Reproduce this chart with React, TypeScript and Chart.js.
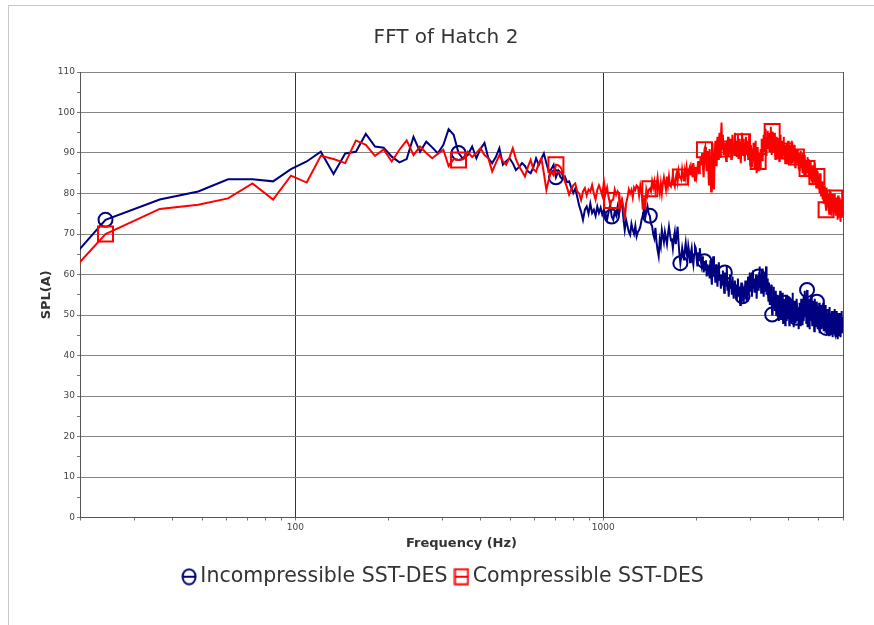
import React, { useEffect, useRef } from 'react';
import { Chart, registerables } from 'chart.js';

Chart.register(...registerables);

// FFT bin spacing (Hz); bin k sits at DF * (k + 1)
const DF = 12.1;

const seriesNames = ['Incompressible SST-DES', 'Compressible SST-DES'];

const incompressible = [
  47.5, 73.5, 78.5, 80.5, 83.5, 83.5, 83.0, 86.0, 87.9, 90.3,
  84.8, 89.9, 90.3, 94.7, 91.6, 91.3, 89.1, 87.7, 88.5, 94.0,
  90.3, 92.8, 91.4, 89.9, 92.0, 95.9, 94.5, 90.0, 88.5, 89.5,
  91.6, 88.7, 91.0, 92.5, 88.7, 87.5, 89.0, 91.2, 87.1, 88.0,
  88.7, 87.5, 85.8, 86.5, 87.5, 86.8, 85.5, 85.0, 86.5, 88.7,
  87.0, 88.5, 89.9, 87.5, 85.4, 86.0, 87.1, 84.0, 85.5, 84.0,
  83.5, 84.2, 82.8, 83.0, 81.5, 80.1, 81.2, 79.2, 77.0, 75.5,
  73.5, 76.0, 76.8, 75.0, 77.5, 75.2, 76.0, 74.5, 76.8, 75.2,
  76.5, 74.8,
  76.0, 75.0, 73.5, 75.5, 77.2, 74.3, 73.5, 75.5, 74.5, 76.8,
  75.0, 77.0, 78.0, 74.0, 71.0, 73.5, 72.0, 70.5, 69.8, 72.5,
  71.0, 70.0, 72.0, 69.4, 70.5, 71.0, 71.8, 73.5, 74.5, 76.0,
  74.0, 75.5, 76.8, 75.0, 74.5, 72.5, 72.0, 70.0, 69.0, 71.5,
  68.0, 66.0, 64.5, 68.5, 67.0, 71.0, 69.5, 68.0, 70.5, 69.0,
  67.5, 70.0, 71.8, 70.0, 68.5, 68.6, 66.5, 69.0, 70.5, 67.5,
  69.5, 71.8, 68.0, 65.0, 62.8, 64.5, 66.5, 65.0, 63.5, 66.0,
  67.8, 65.5, 64.0, 67.0, 65.5, 63.0, 65.3, 66.5, 64.0, 62.5,
  65.0, 67.0, 66.5, 64.0, 62.0, 65.5, 63.5, 66.5, 64.0, 62.5,
  64.5, 62.0, 60.5, 63.3, 61.2, 63.5, 59.5, 62.5, 60.0, 62.0,
  59.0, 63.5, 60.0, 57.5, 62.0, 64.5, 59.5, 61.0, 58.0, 62.5,
  60.3, 57.0, 61.5, 63.0, 58.5, 60.0, 56.5, 59.5, 57.5, 61.0,
  58.5, 55.5, 60.5, 57.0, 59.0, 62.0, 56.0, 58.5, 54.5, 57.5,
  60.0, 56.5, 58.0, 55.0, 59.5, 57.0, 54.0, 56.5, 58.5, 55.4,
  57.5, 53.5, 56.0, 59.0, 54.5, 57.0, 55.0, 52.5, 56.5, 58.0,
  54.0, 54.6, 57.0, 53.0, 56.0, 55.4, 58.5, 54.0, 56.5, 53.5,
  57.0, 59.5, 55.0, 58.0, 60.5, 56.0, 59.5, 57.5, 54.5, 58.5,
  61.0, 56.5, 58.0, 55.5, 59.0, 57.0, 60.0, 54.0, 57.5, 59.5,
  59.5, 56.0, 60.3, 62.0, 57.0, 59.5, 55.5, 58.0, 61.5, 56.5,
  59.0, 54.5, 57.5, 60.0, 56.0, 58.7, 62.0, 55.0, 57.5, 59.0,
  56.0, 53.5, 58.0, 55.0, 52.5, 56.5, 54.0, 57.5, 52.9, 50.1,
  50.5, 54.5, 57.0, 52.0, 55.5, 51.0, 53.5, 56.0, 50.0, 54.0,
  52.5, 49.5, 55.0, 53.0, 48.5, 54.6, 51.5, 56.0, 52.0, 49.0,
  53.5, 50.5, 55.5, 52.0, 48.0, 51.5, 54.0, 50.0, 53.0, 47.5,
  52.0, 55.0, 50.5, 48.5, 53.0, 51.0, 54.5, 49.0, 52.5, 47.5,
  51.5, 54.0, 50.0, 52.1, 48.5, 53.5, 50.5, 55.5, 49.5, 52.0,
  47.0, 51.0, 53.5, 49.5, 52.5, 48.0, 50.5, 49.3, 54.0, 51.5,
  48.5, 52.0, 50.0, 46.5, 49.6, 53.0, 51.0, 47.5, 52.5, 50.0,
  54.0, 49.0, 51.5, 47.5, 53.0, 50.0, 55.0, 48.5, 52.0, 49.5,
  56.0, 52.9, 50.0, 54.5, 48.0, 51.5, 56.2, 47.0, 50.5, 52.5,
  49.0, 54.0, 51.0, 46.5, 50.0, 53.0, 48.5, 52.0, 55.0, 49.5,
  51.3, 47.5, 53.5, 50.0, 48.0, 52.5, 49.0, 46.0, 51.0, 54.0,
  49.5, 52.0, 47.0, 50.5, 50.5, 53.3, 51.0, 46.5, 48.8, 52.0,
  50.0, 47.5, 53.0, 49.0, 45.5, 51.5, 48.0, 52.5, 50.0, 46.5,
  49.5, 52.5, 47.0, 50.5, 48.0, 53.0, 46.0, 49.0, 48.0, 51.5,
  47.5, 50.0, 52.5, 46.5, 46.8, 49.5, 51.5, 45.5, 48.5, 50.5,
  46.0, 49.5, 51.5, 47.0, 45.0, 49.0, 52.0, 47.5, 49.6, 46.5,
  50.5, 48.0, 45.0, 49.0, 51.0, 46.5, 48.5, 44.5, 50.0, 47.5,
  49.0, 46.0, 51.5, 47.5, 45.5, 50.0, 48.0, 44.5, 49.5, 47.0,
  48.0, 51.0, 46.0, 49.0, 44.0, 47.5, 50.5, 46.5, 48.5, 45.0,
  49.5, 47.0, 50.5, 45.5, 48.0, 44.5, 49.0, 47.5, 51.0, 46.0,
  48.5, 45.5, 49.5, 47.0,
];

const compressible = [
  44.9, 70.0, 76.2, 77.2, 78.8, 82.5, 78.5, 84.4, 82.7, 89.3,
  88.5, 87.5, 93.1, 92.0, 89.3, 90.9, 87.9, 90.8, 93.1, 89.5,
  91.6, 90.0, 88.7, 89.8, 90.8, 86.8, 88.5, 88.3, 88.5, 90.3,
  89.0, 90.0, 91.2, 89.5, 88.7, 85.4, 87.5, 89.5, 88.0, 87.1,
  89.0, 91.2, 88.5, 86.7, 85.5, 84.2, 86.5, 88.3, 86.0, 85.4,
  87.5, 88.7, 85.0, 80.9, 83.5, 85.4, 84.5, 87.1, 87.0, 86.5,
  85.4, 83.0, 81.5, 79.7, 81.0, 82.0, 82.5, 80.5, 80.0, 78.4,
  80.5, 81.3, 79.5, 81.0, 80.5, 82.1, 80.0, 78.5, 80.9, 82.0,
  80.9, 79.5,
  83.0, 80.0, 81.5, 79.0, 77.2, 78.3, 78.5, 81.0, 79.7, 80.5,
  79.7, 76.8, 78.5, 76.8, 73.5, 77.5, 79.0, 81.0, 80.0, 80.9,
  79.0, 81.5, 80.9, 82.0, 81.7, 79.5, 82.0, 80.5, 76.0, 79.0,
  76.0, 80.9, 79.5, 80.9, 81.2, 80.5, 83.0, 81.5, 83.0, 80.5,
  82.0, 84.0, 81.5, 80.0, 82.5, 80.0, 82.5, 84.0, 82.5, 81.0,
  84.2, 82.0, 84.2, 82.0, 81.7, 83.0, 84.5, 82.5, 81.7, 84.0,
  85.0, 83.0, 85.5, 84.0, 84.1, 83.5, 86.0, 84.5, 83.0, 85.5,
  84.0, 86.5, 85.0, 83.5, 86.0, 86.7, 84.5, 86.0, 84.0, 87.5,
  85.5, 83.0, 86.5, 84.5, 86.3, 88.0, 85.0, 86.3, 89.1, 87.0,
  90.0, 86.5, 84.0, 90.8, 91.5, 88.0, 85.5, 90.5, 87.0, 82.0,
  91.0, 86.5, 80.5, 88.0, 92.5, 84.0, 81.0, 89.5, 93.0, 87.0,
  90.5, 94.0, 88.5, 92.0, 95.0, 89.0, 93.5, 97.5, 91.0, 94.5,
  89.5, 92.5, 91.0, 90.0, 88.0, 93.0, 91.5, 94.0, 89.0, 92.0,
  90.5, 93.5, 88.5, 91.5, 94.5, 90.0, 92.5, 89.5, 95.0, 91.0,
  93.0, 89.0, 92.0, 94.5, 88.5, 91.5, 93.5, 90.0, 87.5, 92.5,
  95.0, 92.8, 89.5, 93.5, 90.5, 88.0, 92.0, 94.0, 89.5, 91.5,
  93.0, 88.5, 91.5, 94.5, 89.0, 87.0, 92.0, 90.5, 86.5, 91.0,
  88.0, 92.5, 89.5, 86.0, 90.0, 93.0, 87.5, 85.0, 89.0, 91.5,
  87.9, 85.5, 90.0, 88.5, 86.0, 91.0, 89.0, 93.5, 90.5, 88.0,
  92.0, 94.5, 90.5, 93.0, 96.0, 91.5, 89.5, 94.0, 92.5, 95.5,
  91.0, 93.5, 95.0, 90.5, 94.0, 92.0, 96.5, 91.5, 89.5, 95.3,
  92.0, 94.5, 90.0, 93.0, 95.0, 91.0, 88.5, 93.5, 91.5, 94.0,
  90.0, 92.5, 89.0, 93.5, 91.0, 88.0, 92.0, 94.5, 90.5, 89.0,
  92.5, 90.0, 93.0, 88.5, 91.5, 94.0, 89.5, 92.0, 90.5, 87.5,
  91.5, 88.0, 92.5, 90.0, 87.5, 91.0, 93.0, 89.0, 90.5, 88.5,
  92.0, 89.5, 87.0, 91.5, 90.0, 93.0, 88.5, 90.5, 87.5, 91.5,
  89.0, 92.0, 88.0, 90.5, 86.5, 91.0, 89.0, 89.0, 90.5, 88.5,
  91.0, 87.5, 89.5, 86.0, 90.0, 88.0, 85.5, 89.5, 87.0, 90.5,
  86.5, 89.0, 87.5, 85.0, 88.5, 90.0, 86.0, 88.0, 84.5, 87.5,
  89.5, 86.0, 88.0, 84.5, 87.5, 85.5, 86.2, 89.0, 85.0, 87.0,
  84.0, 88.5, 85.5, 83.5, 87.0, 85.0, 88.0, 84.5, 86.5, 83.0,
  86.5, 84.0, 87.0, 82.5, 85.5, 84.0, 86.5, 83.0, 85.0, 87.5,
  82.5, 85.0, 83.5, 81.5, 86.0, 84.2, 84.5, 82.0, 85.5, 83.0,
  81.0, 84.5, 82.5, 80.0, 83.5, 85.0, 81.5, 83.0, 79.5, 82.0,
  80.5, 83.0, 79.0, 81.5, 78.5, 82.0, 80.0, 77.5, 81.0, 79.5,
  82.0, 78.0, 80.5, 77.0, 76.0, 79.0, 81.5, 77.5, 80.0, 78.0,
  76.5, 80.0, 77.0, 79.5, 75.0, 78.0, 81.0, 76.0, 79.0, 77.5,
  80.5, 76.5, 78.5, 74.5, 79.0, 77.0, 80.0, 75.5, 78.0, 76.0,
  79.5, 75.5, 78.0, 78.9, 80.0, 77.0, 74.5, 78.5, 76.5, 79.0,
  75.0, 78.0, 76.5, 73.5, 77.5, 79.5, 75.5, 77.0, 74.0, 78.0,
  76.5, 79.0, 75.0, 77.5, 73.0, 76.0, 78.5, 74.5, 77.0, 75.5,
  78.0, 74.0, 76.5, 77.5,
];

// bins that carry a marker shape
const markerIndices = [1, 27, 57, 87, 116, 146, 175, 204, 233, 262, 291, 320, 349, 378, 407, 436, 465];

const xTickValues = [20, 30, 40, 50, 60, 70, 80, 90, 100, 200, 300, 400, 500, 600, 700, 800, 900, 1000, 2000, 3000, 4000, 5000, 6000];
const xLabelledTicks = [100, 1000];

const NAVY = '#000080';
const RED = '#ff0000';

function makeIcon(kind: 'circle' | 'square', color: string) {
  const c = document.createElement('canvas');
  c.width = 16;
  c.height = 18;
  const g = c.getContext('2d')!;
  g.strokeStyle = color;
  g.lineWidth = 2;
  if (kind === 'circle') {
    g.beginPath();
    g.ellipse(8, 9, 6.5, 7.5, 0, 0, Math.PI * 2);
    g.stroke();
  } else {
    g.strokeRect(1.5, 1.5, 13, 15);
  }
  g.beginPath();
  g.moveTo(1, 9);
  g.lineTo(15, 9);
  g.stroke();
  return c;
}

const rightFrame = {
  id: 'rightFrame',
  beforeDatasetsDraw(chart: any) {
    const { ctx, chartArea } = chart;
    ctx.save();
    ctx.strokeStyle = '#555';
    ctx.lineWidth = 1;
    ctx.beginPath();
    const x = Math.round(chartArea.right) + 0.5;
    ctx.moveTo(x, chartArea.top);
    ctx.lineTo(x, chartArea.bottom);
    ctx.stroke();
    ctx.restore();
  },
};

export default function App() {
  const ref = useRef<HTMLCanvasElement>(null);

  useEffect(() => {
    const canvas = ref.current!;
    Chart.defaults.font.family = '"DejaVu Sans", sans-serif';
    const markerSet = new Set(markerIndices);
    const freqs = incompressible.map((_, i) => Math.round(DF * (i + 1) * 10) / 10);
    const toPts = (ys: number[]) => ys.map((y, i) => ({ x: freqs[i], y }));
    const circleIcon = makeIcon('circle', NAVY);
    const squareIcon = makeIcon('square', RED);

    const chart = new Chart(canvas, {
      type: 'line',
      data: {
        datasets: [
          {
            label: seriesNames[0],
            data: toPts(incompressible),
            borderColor: NAVY,
            borderWidth: 2,
            pointStyle: 'circle',
            pointRadius: (c: any) => (markerSet.has(c.dataIndex) ? 7 : 0),
            pointBorderColor: NAVY,
            pointBackgroundColor: 'rgba(0,0,0,0)',
            pointBorderWidth: 2,
            fill: false,
            order: 1,
          },
          {
            label: seriesNames[1],
            data: toPts(compressible),
            borderColor: RED,
            borderWidth: 2,
            pointStyle: 'rect',
            pointRadius: (c: any) => (markerSet.has(c.dataIndex) ? 10.6 : 0),
            pointBorderColor: RED,
            pointBackgroundColor: 'rgba(0,0,0,0)',
            pointBorderWidth: 2,
            fill: false,
            order: 0,
          },
        ],
      },
      options: {
        responsive: false,
        animation: false,
        events: [],
        layout: { padding: { left: 18, right: 0, top: 0, bottom: 28 } },
        scales: {
          x: {
            type: 'logarithmic',
            position: 'bottom',
            min: 20,
            max: 6000,
            afterBuildTicks: (s: any) => {
              s.ticks = xTickValues.map((v) => ({ value: v }));
            },
            afterFit: (s: any) => {
              s.height = 36;
            },
            ticks: {
              autoSkip: false,
              maxRotation: 0,
              padding: 2,
              color: '#444',
              font: { size: 9 },
              callback: (v: any) => (xLabelledTicks.includes(Number(v)) ? String(v) : ''),
            },
            grid: {
              color: (c: any) => (c.tick && xLabelledTicks.includes(c.tick.value) ? '#333' : 'rgba(0,0,0,0)'),
              tickColor: '#777',
              tickLength: 3,
            },
            border: { display: true, color: '#555', width: 1 },
            title: {
              display: true,
              text: 'Frequency (Hz)',
              color: '#333',
              font: { size: 13, weight: 'bold' },
              padding: { top: 0, bottom: 2 },
            },
          },
          y: {
            type: 'linear',
            position: 'left',
            min: 0,
            max: 110,
            afterFit: (s: any) => {
              s.width = 62;
            },
            ticks: {
              stepSize: 5,
              autoSkip: false,
              padding: 2,
              color: '#444',
              font: { size: 9 },
              callback: (v: any) => (Number(v) % 10 === 0 ? String(v) : ''),
            },
            grid: {
              color: (c: any) => (c.tick && c.tick.value % 10 === 0 ? '#858585' : 'rgba(0,0,0,0)'),
              tickColor: '#777',
              tickLength: 3,
            },
            border: { display: true, color: '#555', width: 1 },
            title: {
              display: true,
              text: 'SPL(A)',
              color: '#333',
              font: { size: 13, weight: 'bold' },
              padding: { top: 21, bottom: 0 },
            },
          },
          yRight: {
            type: 'linear',
            position: 'right',
            display: true,
            ticks: { display: false },
            grid: { display: false },
            border: { display: false },
            afterFit: (s: any) => {
              s.width = 31;
            },
          },
        },
        plugins: {
          title: {
            display: true,
            text: 'FFT of Hatch 2',
            color: '#333',
            font: { size: 20, weight: 'normal' },
            padding: { top: 26, bottom: 22 },
          },
          legend: {
            display: true,
            position: 'bottom',
            labels: {
              usePointStyle: true,
              pointStyleWidth: 2,
              padding: 13,
              color: '#333',
              font: { size: 20.5 },
              generateLabels: () => [
                {
                  text: seriesNames[0],
                  pointStyle: circleIcon,
                  fillStyle: 'rgba(0,0,0,0)',
                  strokeStyle: NAVY,
                  lineWidth: 0,
                  hidden: false,
                  datasetIndex: 0,
                  fontColor: '#333',
                },
                {
                  text: seriesNames[1],
                  pointStyle: squareIcon,
                  fillStyle: 'rgba(0,0,0,0)',
                  strokeStyle: RED,
                  lineWidth: 0,
                  hidden: false,
                  datasetIndex: 1,
                  fontColor: '#333',
                },
              ],
            },
          },
          tooltip: { enabled: false },
        },
      } as any,
      plugins: [rightFrame],
    });
    return () => chart.destroy();
  }, []);

  return (
    <>
      <div
        style={{
          position: 'absolute',
          left: 8,
          top: 5,
          width: 865,
          height: 619,
          borderLeft: '1px solid #c8c8c8',
          borderTop: '1px solid #c8c8c8',
        }}
      />
      <canvas
        ref={ref}
        width={874}
        height={625}
        style={{ position: 'absolute', left: 0, top: 0, width: 874, height: 625 }}
      />
    </>
  );
}
